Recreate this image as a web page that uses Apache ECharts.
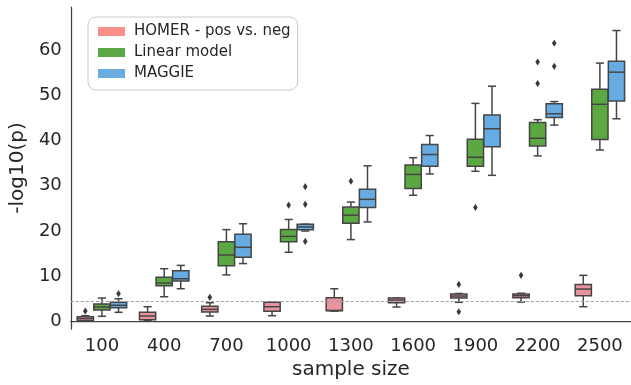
<!DOCTYPE html>
<html>
<head>
<meta charset="utf-8">
<script src="https://cdn.jsdelivr.net/npm/echarts@6/dist/echarts.min.js"></script>
<style>
html,body{margin:0;padding:0;background:#fff;}
#chart{width:631px;height:385px;}
</style>
</head>
<body>
<div id="chart"></div>
<script>
// ---- data ----
const categories = ['100','400','700','1000','1300','1600','1900','2200','2500'];
const seriesNames = ['HOMER - pos vs. neg', 'Linear model', 'MAGGIE'];
// [whisker low, Q1, median, Q3, whisker high]
const homerStats = [
  [0.1, 0.18, 0.62, 1.06, 1.28],
  [0.26, 0.4, 1.21, 2.03, 3.27],
  [1.21, 2.1, 2.69, 3.36, 4.15],
  [1.28, 2.25, 3.27, 4.24, 4.24],
  [2.3, 2.35, 2.45, 5.25, 7.24],
  [3.2, 4.15, 4.75, 5.19, 5.19],
  [4.24, 5.19, 5.63, 6.07, 6.2],
  [4.3, 5.25, 5.7, 6.1, 6.25],
  [3.27, 5.7, 7.17, 8.2, 10.2]
];
const linearStats = [
  [1.15, 2.54, 3.2, 3.86, 5.19],
  [5.47, 7.9, 8.5, 9.76, 11.66],
  [10.3, 12.3, 14.7, 17.6, 20.3],
  [15.3, 17.6, 18.8, 20.35, 22.55],
  [18.1, 21.7, 23.5, 25.3, 26.4],
  [27.9, 29.4, 32.5, 34.6, 36.2],
  [33.2, 34.3, 36.3, 40.3, 48.2],
  [36.6, 38.8, 40.5, 44.0, 44.6],
  [37.9, 40.2, 48.0, 51.3, 57.1]
];
const maggieStats = [
  [2.03, 3.05, 3.58, 4.24, 5.03],
  [7.24, 8.94, 9.45, 11.2, 12.4],
  [12.8, 14.2, 16.4, 19.3, 21.6],
  [20.0, 20.3, 20.9, 21.5, 21.5],
  [22.0, 25.2, 27.0, 29.2, 34.4],
  [32.6, 34.3, 36.9, 39.1, 41.1],
  [32.3, 38.6, 42.6, 45.65, 52.0],
  [43.4, 45.1, 45.9, 48.1, 48.6],
  [44.8, 48.7, 55.1, 57.5, 64.3]
];
const homerOutliers  = [[2.3], [], [5.34], [], [], [], [8.2, 2.16], [10.2], []];
const linearOutliers = [[], [], [], [25.7], [31.0], [], [25.2], [57.35, 52.6], []];
const maggieOutliers = [[6.14], [], [], [29.8, 25.9, 17.7], [], [], [], [61.5, 56.4], []];
const thresholdValue = 4.5;
const yTicks = [0, 10, 20, 30, 40, 50, 60];

// ---- styles ----
const boxFills = ['#e8939e', '#5ba843', '#66abe2'];
const legendColors = ['#f88f88', '#5ba846', '#68ace1'];
const edgeColor = '#454545';
const textColor = '#262626';

function boxData(stats) {
  return stats.map((s, i) => [i, s[0], s[1], s[2], s[3], s[4]]);
}
function outlierData(outs, hue) {
  const d = [];
  outs.forEach((arr, i) => arr.forEach(v => d.push([i, hue, v])));
  return d;
}

function boxRender(hue) {
  return function (params, api) {
    const ci = api.value(0);
    const bw = api.size([1, 0])[0];
    const hueW = bw * 0.8 / 3;
    const cx = api.coord([ci, 0])[0] + (hue - 1) * hueW;
    const w = hueW * 0.98;
    const h = w / 2;
    const cap = w / 4;
    const yMin = api.coord([ci, api.value(1)])[1];
    const yQ1 = api.coord([ci, api.value(2)])[1];
    const yMed = api.coord([ci, api.value(3)])[1];
    const yQ3 = api.coord([ci, api.value(4)])[1];
    const yMax = api.coord([ci, api.value(5)])[1];
    const ls = { stroke: edgeColor, lineWidth: 1.5 };
    return {
      type: 'group',
      children: [
        { type: 'line', shape: { x1: cx, y1: yQ1, x2: cx, y2: yMin }, style: ls },
        { type: 'line', shape: { x1: cx, y1: yQ3, x2: cx, y2: yMax }, style: ls },
        { type: 'line', shape: { x1: cx - cap, y1: yMin, x2: cx + cap, y2: yMin }, style: ls },
        { type: 'line', shape: { x1: cx - cap, y1: yMax, x2: cx + cap, y2: yMax }, style: ls },
        { type: 'rect', shape: { x: cx - h, y: yQ3, width: w, height: yQ1 - yQ3 },
          style: { fill: boxFills[hue], stroke: edgeColor, lineWidth: 1.5 } },
        { type: 'line', shape: { x1: cx - h, y1: yMed, x2: cx + h, y2: yMed }, style: ls }
      ]
    };
  };
}

function outlierRender(params, api) {
  const ci = api.value(0);
  const hue = api.value(1);
  const bw = api.size([1, 0])[0];
  const hueW = bw * 0.8 / 3;
  const p = api.coord([ci, api.value(2)]);
  const cx = p[0] + (hue - 1) * hueW;
  const cy = p[1];
  return {
    type: 'polygon',
    shape: { points: [[cx, cy - 3.6], [cx + 2.3, cy], [cx, cy + 3.6], [cx - 2.3, cy]] },
    style: { fill: '#3a3a3a' }
  };
}

const allStats = [homerStats, linearStats, maggieStats];
const allOutliers = [homerOutliers, linearOutliers, maggieOutliers];

const series = [];
allStats.forEach((st, hue) => {
  series.push({
    name: seriesNames[hue],
    type: 'custom',
    color: legendColors[hue],
    renderItem: boxRender(hue),
    encode: { x: 0, y: [1, 2, 3, 4, 5] },
    data: boxData(st),
    z: 3
  });
});
allOutliers.forEach((o, hue) => {
  series.push({
    name: 'outliers' + hue,
    type: 'custom',
    renderItem: outlierRender,
    encode: { x: 0, y: 2 },
    data: outlierData(o, hue),
    z: 4
  });
});
series.push({
  name: 'threshold',
  type: 'line',
  data: [],
  markLine: {
    silent: true,
    symbol: 'none',
    label: { show: false },
    lineStyle: { color: '#a0a0a0', type: [3, 2], width: 1 },
    data: [{ yAxis: thresholdValue }]
  },
  z: 1
});

const chart = echarts.init(document.getElementById('chart'), null, { renderer: 'canvas' });
chart.setOption({
  animation: false,
  backgroundColor: '#ffffff',
  grid: { left: 68.6, top: 7, width: 564.75, height: 322 },
  legend: {
    data: seriesNames.map((n, i) => ({ name: n, itemStyle: { color: legendColors[i] } })),
    orient: 'vertical',
    left: 88,
    top: 17,
    icon: 'path://M0,0H27V9H0Z M31,9',
    itemWidth: 31,
    itemHeight: 9,
    itemGap: 6,
    padding: [7, 7, 9, 10],
    borderColor: '#c8c8c8',
    borderWidth: 1,
    borderRadius: 8,
    backgroundColor: '#ffffff',
    textStyle: { fontFamily: 'DejaVu Sans', fontSize: 15, color: textColor }
  },
  xAxis: {
    type: 'category',
    data: categories,
    boundaryGap: true,
    name: 'sample size',
    nameLocation: 'middle',
    nameGap: 30,
    nameTextStyle: { fontFamily: 'DejaVu Sans', fontSize: 20, color: textColor },
    axisLine: { lineStyle: { color: '#444444', width: 1.25 } },
    axisTick: { show: false },
    axisLabel: { fontFamily: 'DejaVu Sans', fontSize: 18, color: textColor, margin: 8 },
    splitLine: { show: false }
  },
  yAxis: {
    type: 'value',
    min: -1.657,
    max: 69.5,
    name: '-log10(p)',
    nameLocation: 'middle',
    nameGap: 37,
    nameTextStyle: { fontFamily: 'DejaVu Sans', fontSize: 20, color: textColor },
    axisLine: { show: true, lineStyle: { color: '#444444', width: 1.25 } },
    axisTick: { show: false },
    axisLabel: { fontFamily: 'DejaVu Sans', fontSize: 18, color: textColor, margin: 9, customValues: yTicks },
    splitLine: { show: false }
  },
  series: series
});
</script>
</body>
</html>
